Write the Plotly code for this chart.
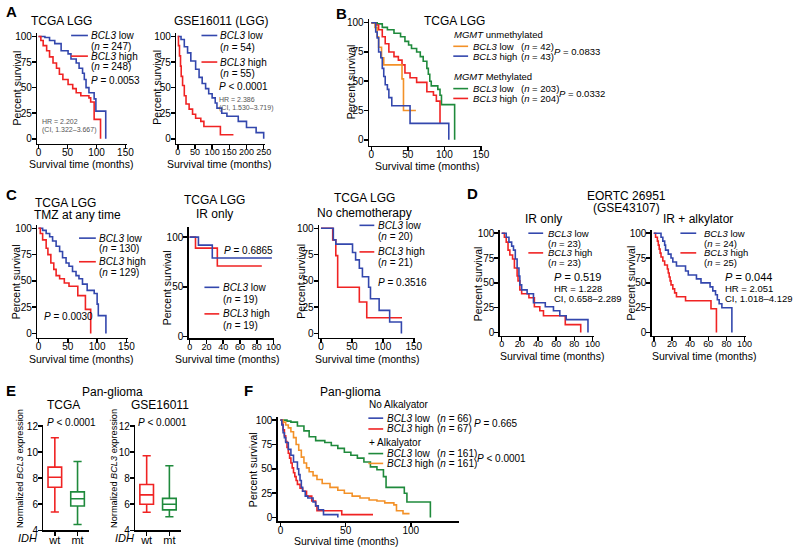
import plotly.graph_objects as go

W, H = 800, 554
FONT = "Liberation Sans, Arial, sans-serif"
BLUE = "#3347ad"
RED = "#f02323"
GREEN = "#1f8a3c"
ORANGE = "#f39128"

# ---------------- data ----------------
# A: TCGA LGG
a1_low_t = [0, 11, 19, 28, 39, 51, 56, 65, 70, 76, 79, 82, 87, 96, 99, 116]
a1_low_s = [100, 99, 96, 93, 86, 83, 78, 74, 69, 64, 58, 50, 45, 39, 27, 0]
a1_high_t = [0, 4, 8, 14, 19, 25, 31, 36, 42, 51, 59, 65, 73, 87, 90, 96, 107]
a1_high_s = [100, 96, 91, 86, 80, 74, 69, 63, 58, 53, 49, 45, 42, 40, 36, 19, 0]
# A: GSE16011 (LGG)
a2_low_t = [0, 9.5, 19, 28.5, 38, 52, 62, 71, 81, 90, 100, 109, 114, 128, 143, 176, 200, 228, 250]
a2_low_s = [100, 97, 90, 84, 76, 68, 60, 54, 49, 44, 40, 35, 30, 25, 22, 17, 11, 6, 0]
a2_high_t = [0, 2, 5, 8, 10, 14, 19, 24, 33, 43, 52, 67, 76, 124, 162]
a2_high_s = [100, 91, 81, 71, 61, 52, 42, 34, 29, 24, 20, 17, 12, 4, 4]
# B: MGMT
b_unm_low_t = [0, 5, 8, 10, 14, 17, 42, 44, 61]
b_unm_low_s = [100, 96, 88, 79, 70, 64, 52, 25, 25]
b_unm_high_t = [0, 6, 8, 10, 13, 15, 17, 19, 22, 24, 28, 53, 106]
b_unm_high_s = [100, 92, 87, 75, 70, 61, 54, 47, 43, 36, 29, 14, 0]
b_m_low_t = [0, 8, 15, 22, 31, 40, 46, 51, 55, 62, 67, 71, 76, 78, 80, 82, 91, 94, 96, 114]
b_m_low_s = [100, 99, 96, 94, 91, 88, 84, 81, 78, 75, 71, 67, 61, 56, 50, 46, 43, 38, 30, 0]
b_m_high_t = [0, 6, 10, 15, 19, 24, 31, 37, 42, 46, 53, 62, 76, 85, 89, 94]
b_m_high_s = [100, 98, 94, 88, 82, 75, 71, 68, 64, 57, 53, 49, 41, 38, 33, 14]
# C: TMZ at any time
c1_low_t = [0, 7, 13, 19, 24, 30, 36, 41, 47, 52, 58, 64, 69, 75, 83, 95, 100, 102, 115]
c1_low_s = [100, 98, 95, 92, 88, 83, 78, 72, 67, 64, 59, 55, 52, 47, 41, 38, 28, 17, 0]
c1_high_t = [0, 3, 7, 13, 16, 21, 26, 30, 36, 44, 52, 67, 80, 89]
c1_high_s = [100, 95, 89, 81, 75, 67, 61, 55, 52, 48, 45, 36, 23, 0]
# C: IR only
c2_low_t = [0, 10.5, 27, 98]
c2_low_s = [100, 92, 79, 79]
c2_high_t = [0, 7, 33, 86]
c2_high_s = [100, 89, 71, 71]
# C: No chemotherapy
c3_low_t = [0, 20, 24, 51, 56, 62, 67, 77, 80, 94, 111, 130]
c3_low_s = [100, 89, 85, 77, 70, 62, 54, 44, 33, 22, 11, 0]
c3_high_t = [0, 19, 24, 27, 62, 74, 131]
c3_high_s = [100, 89, 74, 44, 30, 15, 15]
# D: EORTC IR only
d1_low_t = [0, 5, 8, 11, 13, 15, 17, 19, 20, 22, 28, 35, 48, 57, 64, 71, 95]
d1_low_s = [100, 96, 91, 87, 83, 74, 65, 57, 48, 43, 39, 30, 26, 22, 17, 13, 0]
d1_high_t = [0, 3, 5, 7, 9, 12, 14, 17, 18, 20, 22, 30, 36, 42, 46, 70, 87]
d1_high_s = [100, 96, 91, 83, 78, 74, 65, 57, 52, 43, 39, 35, 26, 22, 17, 8, 0]
# D: IR + alkylator
d2_low_t = [0, 8, 10, 12, 13, 16, 19, 21, 25, 35, 38, 47, 52, 62, 65, 68, 70, 72, 75, 86]
d2_low_s = [100, 96, 92, 88, 83, 79, 75, 71, 67, 62, 58, 54, 50, 46, 42, 38, 33, 29, 25, 0]
d2_high_t = [0, 2, 4, 5, 6, 7, 8, 10, 12, 15, 16, 17, 18, 19, 21, 23, 25, 35, 63, 69]
d2_high_s = [100, 96, 92, 88, 84, 80, 76, 72, 68, 64, 60, 56, 52, 48, 44, 40, 36, 32, 24, 0]
# E: IDH boxes
e_cats = ["wt", "mt"]
e1_low = [5.4, 4.45]
e1_q1 = [7.3, 5.87]
e1_med = [8.07, 6.42]
e1_q3 = [8.85, 6.95]
e1_high = [11.1, 9.28]
e2_low = [5.38, 5.04]
e2_q1 = [6.0, 5.57]
e2_med = [6.72, 6.0]
e2_q3 = [7.52, 6.45]
e2_high = [9.72, 8.95]
# F: Pan-glioma
f_na_low_t = [0, 1, 2, 3, 4, 6, 8, 10, 13, 14, 15, 16, 17, 19, 21, 25, 27, 29, 33, 44]
f_na_low_s = [100, 95, 87, 82, 77, 70, 64, 57, 50, 44, 38, 31, 27, 22, 20, 16, 12, 8, 3, 0]
f_na_high_t = [0, 1, 2, 3, 4, 5, 6, 7, 8, 9, 10, 11, 12, 13, 15, 17, 20, 24, 27, 28, 47, 71]
f_na_high_s = [100, 96, 90, 84, 78, 72, 66, 61, 56, 51, 46, 42, 38, 34, 30, 27, 22, 17, 12, 7, 3, 3]
f_a_low_t = [0, 5, 8, 13, 18, 22, 27, 34, 39, 44, 49, 54, 59, 64, 69, 74, 79, 81, 95, 97, 115]
f_a_low_s = [100, 99, 98, 94, 89, 83, 79, 77, 74, 71, 67, 64, 61, 57, 52, 49, 42, 31, 25, 16, 0]
f_a_high_t = [0, 2, 4, 6, 8, 10, 12, 14, 16, 18, 20, 22, 25, 28, 32, 38, 44, 49, 55, 61, 68, 74, 80, 87, 89, 94, 99]
f_a_high_s = [100, 98, 95, 92, 88, 82, 75, 69, 62, 56, 51, 47, 43, 39, 35, 31, 28, 25, 22, 20, 18, 17, 15, 13, 7, 4, 4]

# ---------------- layout helpers ----------------
def lin(p0, v0, p1, v1):
    k = (p1 - p0) / (v1 - v0)
    return lambda v: p0 + (v - v0) * k


def px(x):
    return x / W


def py(y):
    return 1 - y / H


AX = dict(showline=True, linecolor="black", linewidth=1.5, ticks="outside",
          ticklen=4, tickwidth=1.5, tickcolor="black", showgrid=False,
          zeroline=False, tickfont=dict(size=10, color="black", family=FONT),
          fixedrange=True, tickangle=0)

# name: (xmap, xrange, xticks, ymap, yrange, yticks, xtick font size)
panels = {
    "A1": ((37, 0, 125, 150), [-2, 152], [0, 50, 100, 150], (137, 0, 33, 100), [-5, 103], [0, 25, 50, 75, 100], 10),
    "A2": ((178, 0, 265, 250), [-4, 255], [0, 50, 100, 150, 200, 250], (137, 0, 33, 100), [-5, 103], [0, 25, 50, 75, 100], 9),
    "B": ((374, 0, 485, 150), [-3, 152], [0, 50, 100, 150], (138, 0, 19, 100), [-5, 103], [0, 25, 50, 75, 100], 10),
    "C1": ((37, 0, 126, 150), [-2, 152], [0, 50, 100, 150], (335, 0, 228, 100), [-4, 103], [0, 25, 50, 75, 100], 10),
    "C2": ((190, 0, 275, 100), [-1, 101], [0, 20, 40, 60, 80, 100], (338, 0, 237, 100), [-2, 110], [0, 50, 100], 9),
    "C3": ((323, 0, 417, 150), [-3, 152], [0, 50, 100, 150], (335, 0, 228, 100), [-4, 103], [0, 25, 50, 75, 100], 10),
    "D1": ((506, 0, 598, 100), [-2, 102], [0, 20, 40, 60, 80, 100], (334, 0, 233, 100), [-3, 103], [0, 25, 50, 75, 100], 9),
    "D2": ((660, 0, 752, 100), [-2, 102], [0, 20, 40, 60, 80, 100], (334, 0, 233, 100), [-3, 103], [0, 25, 50, 75, 100], 9),
    "F": ((282, 0, 414, 100), [-2, 137], [0, 50, 100], (522, 0, 423, 100), [-4, 103], [0, 25, 50, 75, 100], 10),
}
box_panels = {"E1": (42, 88), "E2": (135, 181)}

layout = dict(width=W, height=H, margin=dict(l=0, r=0, t=0, b=0),
              paper_bgcolor="white", plot_bgcolor="white", showlegend=False,
              font=dict(family=FONT, color="black"))
axis_id = {}
n = 0
for name, (xm, xr, xt, ym, yr, yt, xfs) in panels.items():
    n += 1
    s = "" if n == 1 else str(n)
    fx = lin(*xm)
    fy = lin(*ym)
    layout["xaxis" + s] = dict(AX, domain=[px(fx(xr[0])), px(fx(xr[1]))], range=xr,
                               tickvals=xt, anchor="y" + s, ticklabelstandoff=-5,
                               tickfont=dict(size=xfs, color="black", family=FONT))
    layout["yaxis" + s] = dict(AX, domain=[py(fy(yr[0])), py(fy(yr[1]))], range=yr,
                               tickvals=yt, anchor="x" + s, ticklabelstandoff=-2)
    axis_id[name] = ("x" + s, "y" + s)
fe = lin(535, 4, 429, 12)
for name, (l, r) in box_panels.items():
    n += 1
    s = str(n)
    layout["xaxis" + s] = dict(AX, domain=[px(l), px(r)], range=[-0.5, 1.5], type="category",
                               anchor="y" + s, ticklabelstandoff=-5,
                               tickfont=dict(size=11, color="black", family=FONT))
    layout["yaxis" + s] = dict(AX, domain=[py(fe(4)), py(fe(12.1))], range=[4, 12.1],
                               tickvals=[4, 6, 8, 10, 12], anchor="x" + s, ticklabelstandoff=-2)
    axis_id[name] = ("x" + s, "y" + s)

fig = go.Figure()


def km(panel, t, s, color):
    xa, ya = axis_id[panel]
    fig.add_trace(go.Scatter(x=t, y=s, mode="lines", line=dict(color=color, width=1.6, shape="hv"),
                             xaxis=xa, yaxis=ya, hoverinfo="skip"))


km("A1", a1_low_t, a1_low_s, BLUE)
km("A1", a1_high_t, a1_high_s, RED)
km("A2", a2_low_t, a2_low_s, BLUE)
km("A2", a2_high_t, a2_high_s, RED)
km("B", b_m_low_t, b_m_low_s, GREEN)
km("B", b_m_high_t, b_m_high_s, RED)
km("B", b_unm_low_t, b_unm_low_s, ORANGE)
km("B", b_unm_high_t, b_unm_high_s, BLUE)
km("C1", c1_low_t, c1_low_s, BLUE)
km("C1", c1_high_t, c1_high_s, RED)
km("C2", c2_high_t, c2_high_s, RED)
km("C2", c2_low_t, c2_low_s, BLUE)
km("C3", c3_high_t, c3_high_s, RED)
km("C3", c3_low_t, c3_low_s, BLUE)
km("D1", d1_high_t, d1_high_s, RED)
km("D1", d1_low_t, d1_low_s, BLUE)
km("D2", d2_high_t, d2_high_s, RED)
km("D2", d2_low_t, d2_low_s, BLUE)
km("F", f_a_low_t, f_a_low_s, GREEN)
km("F", f_a_high_t, f_a_high_s, ORANGE)
km("F", f_na_high_t, f_na_high_s, RED)
km("F", f_na_low_t, f_na_low_s, BLUE)


def boxes(panel, lo, q1, med, q3, hi):
    xa, ya = axis_id[panel]
    for i, (c, col) in enumerate(zip(e_cats, [RED, GREEN])):
        fig.add_trace(go.Box(x=[c], q1=[q1[i]], median=[med[i]], q3=[q3[i]],
                             lowerfence=[lo[i]], upperfence=[hi[i]], boxpoints=False,
                             fillcolor="white", line=dict(color=col, width=1.6),
                             width=0.6, whiskerwidth=0.6, xaxis=xa, yaxis=ya,
                             hoverinfo="skip"))


boxes("E1", e1_low, e1_q1, e1_med, e1_q3, e1_high)
boxes("E2", e2_low, e2_q1, e2_med, e2_q3, e2_high)

ann = []
shapes = []


def txt(x, y, s, size=10, anchor="left", color="black", angle=0, bold=False):
    if bold:
        s = "<b>" + s + "</b>"
    ann.append(dict(x=px(x), y=py(y), xref="paper", yref="paper", text=s, showarrow=False,
                    xanchor=anchor, yanchor="middle", textangle=angle, borderpad=0,
                    font=dict(size=size, color=color, family=FONT)))


def key(x0, x1, y, color):
    shapes.append(dict(type="line", xref="paper", yref="paper", x0=px(x0), x1=px(x1),
                       y0=py(y), y1=py(y), line=dict(color=color, width=1.6)))


B3 = "<i>BCL3</i>"


def nn(v):
    return "(<i>n</i> = %s)" % v


# panel letters
for L, x, y in [("A", 3, 8), ("B", 337, 10), ("C", 3, 194), ("D", 470, 193), ("E", 3, 393), ("F", 244, 393)]:
    txt(x, y, L, size=15, bold=True)

# y titles
for x, y in [(15, 85), (157, 85), (353, 79), (15, 282), (167, 288), (303, 282), (482, 284), (637, 284), (255, 473)]:
    txt(x, y, "Percent survival", size=10.5, anchor="center", angle=-90)
# x titles
for x, y in [(80, 163), (220, 163), (430, 165), (80, 361), (228, 361), (370, 361), (557, 358), (711, 358), (348, 546)]:
    txt(x, y, "Survival time (months)", size=10.5, anchor="center")

# A
txt(60, 17, "TCGA LGG", size=12, anchor="center")
key(70, 87, 32, BLUE); txt(89, 32, B3 + " low")
txt(89, 43, nn(247))
key(70, 87, 53, RED); txt(89, 53, B3 + " high")
txt(89, 64, nn(248))
txt(89, 78, "<i>P</i> = 0.0053")
txt(39, 119, "HR = 2.202", size=7, color="#555555")
txt(39, 128, "(CI, 1.322–3.667)", size=7, color="#555555")

txt(222, 17, "GSE16011 (LGG)", size=12, anchor="center")
key(202, 218, 32, BLUE); txt(220, 32, B3 + " low")
txt(220, 44, nn(54))
key(202, 218, 59, RED); txt(220, 59, B3 + " high")
txt(220, 71, nn(55))
txt(219, 84, "<i>P</i> < 0.0001")
txt(219, 97, "HR = 2.386", size=7, color="#555555")
txt(219, 106, "(CI, 1.530–3.719)", size=7, color="#555555")

# B
txt(458, 17, "TCGA LGG", size=12, anchor="center")
txt(457, 31, "<i>MGMT</i> unmethylated", size=9.5)
key(457, 472, 43, ORANGE); txt(476, 43, B3 + " low", size=9.5); txt(525, 43, nn(42), size=9.5)
key(457, 472, 53, BLUE); txt(476, 53, B3 + " high", size=9.5); txt(525, 53, nn(43), size=9.5)
txt(558, 48, "<i>P</i> = 0.0833", size=9.5)
txt(457, 74, "<i>MGMT</i> Methylated", size=9.5)
key(457, 472, 86, GREEN); txt(476, 86, B3 + " low", size=9.5); txt(525, 86, nn(203), size=9.5)
key(457, 472, 96, RED); txt(476, 96, B3 + " high", size=9.5); txt(525, 96, nn(204), size=9.5)
txt(563, 91, "<i>P</i> = 0.0332", size=9.5)

# C
txt(64, 202, "TCGA LGG", size=12, anchor="center")
txt(76, 214, "TMZ at any time", size=12, anchor="center")
key(78, 95, 238, BLUE); txt(97, 238, B3 + " low"); txt(97, 249, nn(130))
key(78, 95, 262, RED); txt(97, 262, B3 + " high"); txt(97, 273, nn(129))
txt(42, 318, "<i>P</i> = 0.0030")

txt(215, 199, "TCGA LGG", size=12, anchor="center")
txt(215, 213, "IR only", size=12, anchor="center")
txt(275, 251, "<i>P</i> = 0.6865", anchor="right")
key(205, 220, 288, BLUE); txt(223, 288, B3 + " low"); txt(223, 300, nn(19))
key(205, 220, 315, RED); txt(223, 315, B3 + " high"); txt(223, 327, nn(19))

txt(367, 197, "TCGA LGG", size=12, anchor="center")
txt(367, 212, "No chemotherapy", size=12, anchor="center")
key(362, 377, 225, BLUE); txt(380, 225, B3 + " low"); txt(380, 236, nn(20))
key(362, 377, 252, RED); txt(380, 252, B3 + " high"); txt(380, 263, nn(21))
txt(380, 283, "<i>P</i> = 0.3516")

# D
txt(632, 195, "EORTC 26951", size=12, anchor="center")
txt(632, 207, "(GSE43107)", size=12, anchor="center")
txt(548, 219, "IR only", size=12, anchor="center")
txt(705, 219, "IR + alkylator", size=12, anchor="center")
key(533, 548, 233, BLUE); txt(552, 233, B3 + " low", size=9.5); txt(552, 243, nn(23), size=9.5)
key(533, 548, 253, RED); txt(552, 253, B3 + " high", size=9.5); txt(552, 263, nn(23), size=9.5)
txt(558, 278, "<i>P</i> = 0.519", size=11)
txt(558, 289, "HR = 1.228", size=9.5)
txt(558, 299, "CI, 0.658–2.289", size=9.5)
key(687, 703, 233, BLUE); txt(710, 233, B3 + " low", size=9.5); txt(710, 243, nn(24), size=9.5)
key(687, 703, 253, RED); txt(710, 253, B3 + " high", size=9.5); txt(710, 263, nn(25), size=9.5)
txt(731, 278, "<i>P</i> = 0.044", size=11)
txt(731, 289, "HR = 2.051", size=9.5)
txt(731, 299, "CI, 1.018–4.129", size=9.5)

# E
txt(112, 394, "Pan-glioma", size=12, anchor="center")
txt(62, 408, "TCGA", size=12, anchor="center")
txt(160, 408, "GSE16011", size=12, anchor="center")
txt(70, 425, "<i>P</i> < 0.0001", anchor="center")
txt(163, 425, "<i>P</i> < 0.0001", anchor="center")
txt(19, 472, "Normalized " + B3 + " expression", size=9.2, anchor="center", angle=-90)
txt(114, 472, "Normalized " + B3 + " expression", size=9.2, anchor="center", angle=-90)
txt(15, 543, "<i>IDH</i>", size=11)
txt(113, 543, "<i>IDH</i>", size=11)

# F
txt(353, 394, "Pan-glioma", size=12, anchor="center")
txt(371, 407, "No Alkalyator")
key(371, 386, 421, BLUE); txt(389, 421, B3 + " low"); txt(439, 421, nn(66))
key(371, 386, 432, RED); txt(389, 432, B3 + " high"); txt(439, 432, nn(67))
txt(477, 426, "<i>P</i> = 0.665")
txt(371, 446, "+ Alkalyator")
key(371, 386, 457, GREEN); txt(389, 457, B3 + " low"); txt(439, 457, nn(161))
key(371, 386, 467, ORANGE); txt(389, 467, B3 + " high"); txt(439, 467, nn(161))
txt(480, 462, "<i>P</i> < 0.0001")

layout["annotations"] = ann
layout["shapes"] = shapes
fig.update_layout(**layout)
fig.write_html("out.html", config={"displayModeBar": False, "staticPlot": True},
               post_script="document.body.style.margin='0px';document.body.style.overflow='hidden';")
